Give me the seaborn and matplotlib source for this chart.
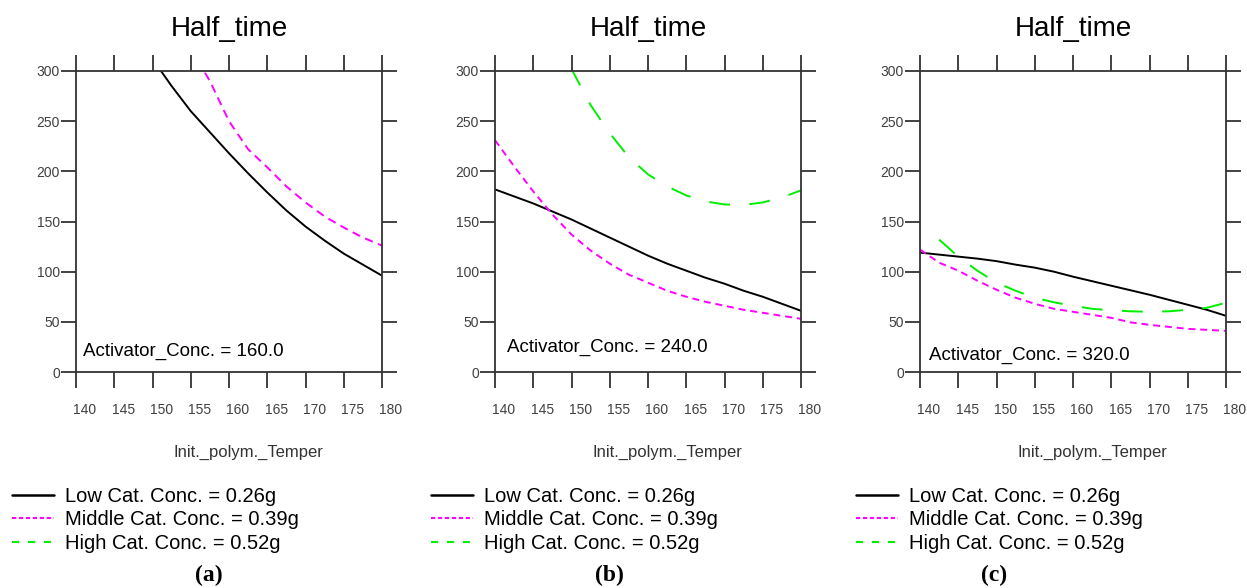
import matplotlib
matplotlib.use("Agg")
import matplotlib.pyplot as plt
import matplotlib.transforms as mtransforms
from matplotlib.lines import Line2D
import seaborn as sns

# ----------------------------
# data
# ----------------------------
TEMP = [140, 142.5, 145, 147.5, 150, 152.5, 155, 157.5, 160,
        162.5, 165, 167.5, 170, 172.5, 175, 177.5, 180]

ACTIVATOR = ["160.0", "240.0", "320.0"]
SERIES_NAMES = ["Low Cat. Conc. = 0.26g",
                "Middle Cat. Conc. = 0.39g",
                "High Cat. Conc. = 0.52g"]

# panel (a)  Activator = 160
low_a_x = TEMP[4:]
low_a_y = [312, 285, 260, 239, 218, 198, 179, 161, 145, 131, 118, 107, 96]
mid_a_x = TEMP[6:]
mid_a_y = [322, 290, 250, 222, 204, 185, 169, 155, 144, 134, 126]
high_a_x = []
high_a_y = []  # above 300 everywhere

# panel (b)  Activator = 240
low_b_x = TEMP
low_b_y = [182, 175, 168, 160, 152, 143, 134, 125, 116, 108, 101, 94, 88, 81, 75, 68, 61]
mid_b_x = TEMP
mid_b_y = [231, 205, 180, 157, 137, 121, 108, 97, 89, 81, 75, 70, 66, 62, 59, 56, 53]
high_b_x = TEMP[3:]
high_b_y = [340, 302, 266, 238, 214, 197, 185, 176, 170, 167, 166.5, 169, 174, 181]

# panel (c)  Activator = 320
low_c_x = TEMP
low_c_y = [119, 117, 115, 113, 110.5, 107, 104, 100, 95, 90.5, 86, 81.5, 77, 72, 67, 62, 56]
mid_c_x = TEMP
mid_c_y = [122, 109, 101, 91, 82, 74, 68, 63, 60, 57, 54, 49.5, 47, 45, 43, 42, 41]
high_c_x = TEMP[1:]
high_c_y = [132, 115, 101, 89, 81, 74, 69.5, 66, 63, 61.5, 60.5, 60, 60.5, 62, 64, 69]

PANELS = [
    [(low_a_x, low_a_y), (mid_a_x, mid_a_y), (high_a_x, high_a_y)],
    [(low_b_x, low_b_y), (mid_b_x, mid_b_y), (high_b_x, high_b_y)],
    [(low_c_x, low_c_y), (mid_c_x, mid_c_y), (high_c_x, high_c_y)],
]
PANEL_TAGS = ["(a)", "(b)", "(c)"]

# ----------------------------
# style
# ----------------------------
sns.set_style("white")
plt.rcParams["font.family"] = ["Liberation Sans", "DejaVu Sans"]
plt.rcParams["lines.scale_dashes"] = False
plt.rcParams["text.color"] = "black"

COLORS = ["black", "#ff00ff", "#00ee00"]
PLOT_DASHES = [[None, (6, 4), (15, 14)],
               [None, (5, 3.5), (15, 14)],
               [None, (5, 3.5), (15, 14)]]

W, H = 1247, 588
fig = plt.figure(figsize=(W / 100, H / 100), dpi=100)

ax_left_px = [76, 495, 920]
tag_x_px = [209, 609, 994]
note_pos = [(0.023, 0.07), (0.039, 0.083), (0.03, 0.056)]
shift = mtransforms.ScaledTranslation(0.09, 0, fig.dpi_scale_trans)

for i, series in enumerate(PANELS):
    left = ax_left_px[i]
    ax = fig.add_axes([left / W, 1 - 372 / H, 306 / W, 301 / H])

    for k, (xs, ys) in enumerate(series):
        if not xs:
            continue
        sns.lineplot(x=xs, y=ys, color=COLORS[k], lw=1.4, ax=ax)
        if PLOT_DASHES[i][k] is not None:
            ax.lines[-1].set_dashes(PLOT_DASHES[i][k])

    ax.set_xlim(140, 180)
    ax.set_ylim(0, 300)
    ax.set_xticks(range(140, 181, 5))
    ax.set_yticks(range(0, 301, 50))
    for s in ax.spines.values():
        s.set_color("#333333")
        s.set_linewidth(1.3)
    ax.tick_params(axis="x", direction="out", top=True, bottom=True,
                   length=11.5, width=1.3, color="#333333", pad=10.5,
                   labelsize=10, labelcolor="#404040")
    ax.tick_params(axis="y", direction="out", left=True, right=True,
                   length=10.5, width=1.3, color="#333333", pad=1,
                   labelsize=10, labelcolor="#404040")
    for lab in ax.get_xticklabels():
        lab.set_transform(lab.get_transform() + shift)

    ax.set_title("Half_time", fontsize=20, pad=25, color="black")
    ax.set_xlabel("Init._polym._Temper", fontsize=12, color="#333333")
    ax.xaxis.set_label_coords(0.562, -0.266)
    ax.xaxis.label.set_va("center")
    ax.set_ylabel("")

    ax.text(note_pos[i][0], note_pos[i][1], f"Activator_Conc. = {ACTIVATOR[i]}",
            transform=ax.transAxes, fontsize=13.5, va="center", ha="left",
            color="black")

    handles = [Line2D([], [], color=COLORS[0], lw=1.8),
               Line2D([], [], color=COLORS[1], lw=1.5, dashes=(3, 2)),
               Line2D([], [], color=COLORS[2], lw=1.5, dashes=(5, 6.5))]
    leg = fig.legend(handles, SERIES_NAMES, loc="upper left",
                     bbox_to_anchor=((left - 64) / W, 1 - 487 / H),
                     bbox_transform=fig.transFigure, frameon=False,
                     fontsize=14.5, borderpad=0, borderaxespad=0,
                     handlelength=2.1, handletextpad=0.55, labelspacing=0.22)
    for t in leg.get_texts():
        t.set_color("black")

    fig.text(tag_x_px[i] / W, 1 - 575 / H, PANEL_TAGS[i], ha="center", va="center",
             fontsize=17, fontweight="bold", color="black",
             family=["Liberation Serif", "DejaVu Serif"])

fig.savefig("out.png", dpi=100)
